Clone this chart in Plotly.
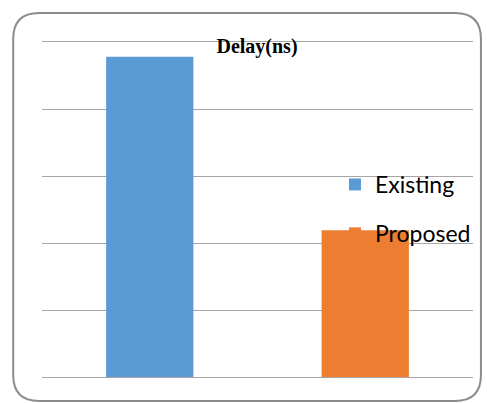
import plotly.graph_objects as go

# Delay comparison data
categories = ["Delay(ns)"]
series_names = ["Existing", "Proposed"]
series_values = [[4.78], [2.19]]
series_colors = ["#5B9BD5", "#ED7D31"]

W, H = 487, 403
ML, MR, MT, MB = 42, 11, 42, 26

fig = go.Figure()
for name, vals, col in zip(series_names, series_values, series_colors):
    fig.add_trace(go.Bar(
        x=categories, y=vals, name=name,
        marker=dict(color=col, line=dict(width=0)),
        legendgroup=name,
    ))

pw, ph = W - ML - MR, H - MT - MB

fig.update_layout(
    width=W, height=H,
    margin=dict(l=ML, r=MR, t=MT, b=MB),
    paper_bgcolor="white", plot_bgcolor="white",
    barmode="group", bargap=0.0, bargroupgap=0.595,
    showlegend=True,
    legend=dict(
        x=(337 - ML) / pw, y=(377 - 163) / ph, xanchor="left", yanchor="top",
        font=dict(family="Lato, 'Liberation Sans', sans-serif", size=23, color="#000000"),
        bgcolor="rgba(0,0,0,0)", tracegroupgap=16, itemwidth=30,
    ),
    title=dict(
        text="<b>Delay(ns)</b>", x=257 / W, xanchor="center",
        y=1 - 46 / H, yanchor="middle",
        font=dict(family="'Liberation Serif', 'Times New Roman', serif", size=20, color="#000000"),
    ),
    xaxis=dict(showticklabels=False, showline=True, mirror=True, linecolor="#A6A6A6",
               linewidth=1, showgrid=False, zeroline=False, ticks=""),
    yaxis=dict(range=[0, 5], dtick=1, showticklabels=False, showgrid=True,
               gridcolor="#A6A6A6", gridwidth=1, zeroline=False, showline=False, ticks=""),
)

# rounded frame around the whole chart, expressed relative to the plot area
r = 26
px0 = (13 - ML) / pw
px1 = (484 - ML) / pw
py0 = (H - MB - 13) / ph
py1 = (H - MB - 401) / ph
prx, pry = r / pw, r / ph
path = (f"M {px0+prx},{py0} L {px1-prx},{py0} Q {px1},{py0} {px1},{py0-pry} "
        f"L {px1},{py1+pry} Q {px1},{py1} {px1-prx},{py1} L {px0+prx},{py1} "
        f"Q {px0},{py1} {px0},{py1+pry} L {px0},{py0-pry} Q {px0},{py0} {px0+prx},{py0} Z")
fig.add_shape(type="path", path=path, xref="paper", yref="paper",
              line=dict(color="#8C8C8C", width=2), fillcolor="rgba(0,0,0,0)", layer="above")

fig.write_html("out.html")
